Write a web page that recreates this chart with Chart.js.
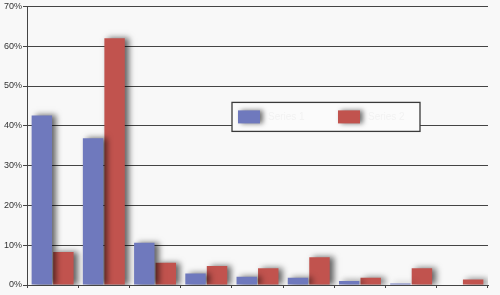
<!DOCTYPE html>
<html>
<head>
<meta charset="utf-8">
<script src="https://cdn.jsdelivr.net/npm/chart.js@4"></script>
<style>
  html, body { margin: 0; padding: 0; background: #f8f8f8; }
  #wrap { width: 500px; height: 295px; position: relative; }
</style>
</head>
<body>
<div id="wrap"><canvas id="c" width="500" height="295"></canvas></div>
<script>
const categories = ["1", "2", "3", "4", "5", "6", "7", "8", "9"];
const seriesNames = ["Series 1", "Series 2"];
const blueValues = [42.6, 36.9, 10.6, 2.9, 2.1, 1.8, 1.0, 0.4, 0];
const redValues = [8.3, 62.0, 5.6, 4.8, 4.2, 7.0, 1.8, 4.2, 1.4];
const yTickValues = [0, 10, 20, 30, 40, 50, 60, 70];

const BLUE = '#6f79bd';
const RED = '#c1534e';

const shadowPlugin = {
  id: 'barShadow',
  beforeDatasetsDraw(chart) {
    const ctx = chart.ctx;
    ctx.save();
    ctx.shadowColor = 'rgba(0,0,0,0.6)';
    ctx.shadowBlur = 6;
    ctx.shadowOffsetX = 4;
    ctx.shadowOffsetY = 0;
  },
  afterDatasetsDraw(chart) {
    chart.ctx.restore();
  }
};

const boxLegend = {
  id: 'boxLegend',
  afterDraw(chart) {
    const ctx = chart.ctx;
    const a = chart.chartArea;
    const x0 = a.left + 205, y0 = a.top + 96, w = 188, h = 29;
    ctx.save();
    ctx.fillStyle = '#fbfbfb';
    ctx.fillRect(x0, y0, w, h);
    ctx.strokeStyle = '#3a3a3a';
    ctx.lineWidth = 1.3;
    ctx.strokeRect(x0, y0, w, h);
    chart.data.datasets.forEach((ds, i) => {
      const sx = x0 + 6 + i * 100;
      const sy = y0 + 8;
      ctx.save();
      ctx.shadowColor = 'rgba(0,0,0,0.55)';
      ctx.shadowBlur = 5;
      ctx.shadowOffsetX = 3;
      ctx.fillStyle = ds.backgroundColor;
      ctx.fillRect(sx, sy, 22, 13);
      ctx.restore();
      ctx.fillStyle = '#f2f2f2';
      ctx.font = '10px "Liberation Sans", Arial, sans-serif';
      ctx.textBaseline = 'middle';
      ctx.fillText(ds.label, sx + 30, sy + 7);
    });
    ctx.restore();
  }
};

new Chart(document.getElementById('c'), {
  type: 'bar',
  data: {
    labels: categories,
    datasets: [
      { label: seriesNames[0], data: blueValues, backgroundColor: BLUE, borderWidth: 0,
        categoryPercentage: 0.84, barPercentage: 0.95 },
      { label: seriesNames[1], data: redValues, backgroundColor: RED, borderWidth: 0,
        categoryPercentage: 0.84, barPercentage: 0.95 }
    ]
  },
  options: {
    responsive: false,
    animation: false,
    layout: { padding: { top: 6, right: 12, left: 0, bottom: 0 } },
    plugins: { legend: { display: false }, tooltip: { enabled: false } },
    scales: {
      x: {
        grid: { display: true, drawOnChartArea: false, drawTicks: true, tickLength: 3, color: '#444', offset: true },
        border: { display: true, color: '#444', width: 1 },
        ticks: { display: false },
        afterFit(s) { s.height = 10; }
      },
      y: {
        min: 0, max: 70,
        afterBuildTicks(s) { s.ticks = yTickValues.map(v => ({ value: v })); },
        grid: { color: '#444', lineWidth: 1, tickLength: 4, drawTicks: true },
        border: { display: true, color: '#444', width: 1 },
        ticks: {
          padding: 1,
          color: '#333',
          font: { size: 9, family: '"Liberation Sans", Arial, sans-serif' },
          callback: v => v + '%'
        },
        afterFit(s) { s.width = 27; }
      }
    }
  },
  plugins: [shadowPlugin, boxLegend]
});
</script>
</body>
</html>
